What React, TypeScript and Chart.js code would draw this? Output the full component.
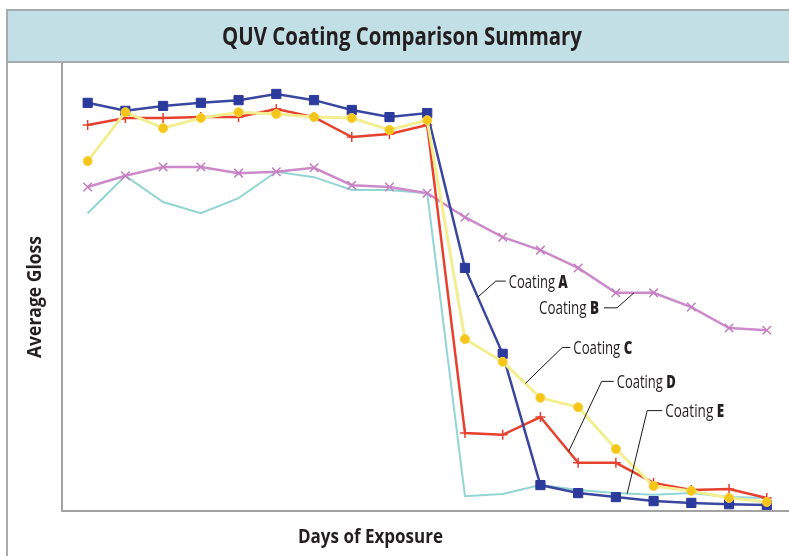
import React, { useEffect, useRef } from "react";
import { Chart, registerables } from "chart.js";

Chart.register(...registerables);

// ---- Data ----
const exposureSteps = [0, 1, 2, 3, 4, 5, 6, 7, 8, 9, 10, 11, 12, 13, 14, 15, 16, 17, 18];
const coatingA = [91.5, 89.7, 90.8, 91.5, 92.1, 93.5, 92.1, 89.9, 88.3, 89.2, 54.4, 35.1, 5.6, 3.8, 2.9, 2.0, 1.6, 1.3, 1.1];
const coatingB = [72.6, 75.1, 77.1, 77.1, 75.7, 76.0, 76.9, 73.0, 72.6, 71.2, 65.8, 61.3, 58.4, 54.4, 48.8, 48.8, 45.6, 40.9, 40.4];
const coatingC = [78.4, 89.4, 85.8, 88.1, 89.4, 89.0, 88.3, 88.1, 85.4, 87.6, 38.4, 33.3, 25.2, 23.1, 13.7, 5.4, 4.3, 2.7, 1.8];
const coatingD = [86.5, 88.1, 88.1, 88.3, 88.3, 90.1, 88.3, 83.8, 84.5, 86.5, 17.3, 16.9, 20.9, 10.6, 10.6, 6.1, 4.5, 4.7, 2.7];
const coatingE = [66.7, 75.1, 69.2, 66.7, 70.1, 76.0, 74.8, 71.9, 71.9, 71.2, 3.1, 3.6, 5.6, 4.5, 3.8, 3.4, 3.8, 2.9, 2.7];

const seriesNames = ["A", "B", "C", "D", "E"];
const chartTitle = "QUV Coating Comparison Summary";
const xTitle = "Days of Exposure";
const yTitle = "Average Gloss";

// label callouts: series, anchor position along the x index
const calloutSeries = ["A", "B", "C", "D", "E"];
const calloutAt = [10.34, 14.48, 11.6, 12.75, 14.3];

const FONT = '"Open Sans", "Noto Sans", sans-serif';
const TEXT = "#231f20";

function fitText(ctx: CanvasRenderingContext2D, text: string, x: number, y: number, w: number, size: number, weight: string, align: "left" | "center" | "right") {
  ctx.save();
  ctx.font = `${weight} ${size}px ${FONT}`;
  const m = ctx.measureText(text).width;
  const s = w / m;
  ctx.translate(x, y);
  ctx.scale(s, 1);
  ctx.textAlign = align;
  ctx.textBaseline = "alphabetic";
  ctx.fillStyle = TEXT;
  ctx.fillText(text, 0, 0);
  ctx.restore();
}

function drawCoating(ctx: CanvasRenderingContext2D, letter: string, x: number, y: number, w: number, align: "left" | "right") {
  ctx.save();
  const size = 18;
  const reg = `500 ${size}px ${FONT}`;
  const bold = `800 ${size}px ${FONT}`;
  ctx.font = reg;
  const w1 = ctx.measureText("Coating ").width;
  ctx.font = bold;
  const w2 = ctx.measureText(letter).width;
  const s = w / (w1 + w2);
  const startX = align === "left" ? x : x - w;
  ctx.translate(startX, y);
  ctx.scale(s, 1);
  ctx.textAlign = "left";
  ctx.textBaseline = "alphabetic";
  ctx.fillStyle = TEXT;
  ctx.font = reg;
  ctx.fillText("Coating ", 0, 0);
  ctx.font = bold;
  ctx.fillText(letter, w1, 0);
  ctx.restore();
}

const seriesValues: Record<string, number[]> = { A: coatingA, B: coatingB, C: coatingC, D: coatingD, E: coatingE };

const framePlugin = {
  id: "frame",
  beforeDraw(chart: any) {
    const ctx: CanvasRenderingContext2D = chart.ctx;
    const W = chart.width;
    const H = chart.height;
    const ca = chart.chartArea;
    ctx.save();
    ctx.fillStyle = "#ffffff";
    ctx.fillRect(0, 0, W, H);
    // title band
    ctx.fillStyle = "#c3dfe6";
    ctx.fillRect(7, 10, W - 7, 52);
    ctx.strokeStyle = "#a8aaad";
    ctx.lineWidth = 2;
    ctx.beginPath();
    ctx.moveTo(6, 10);
    ctx.lineTo(W, 10);
    ctx.moveTo(6, 62);
    ctx.lineTo(W, 62);
    ctx.moveTo(7, 9);
    ctx.lineTo(7, H);
    ctx.stroke();
    // axes
    ctx.strokeStyle = "#a3a3a3";
    ctx.lineWidth = 2;
    ctx.beginPath();
    ctx.moveTo(ca.left, 63);
    ctx.lineTo(ca.left, ca.bottom + 1);
    ctx.lineTo(W, ca.bottom + 1);
    ctx.stroke();
    ctx.restore();

    fitText(ctx, chartTitle, 402, 45, 360, 25, "700", "center");
    fitText(ctx, xTitle, 370.5, 543, 145, 20, "700", "center");
    ctx.save();
    ctx.translate(41, 297);
    ctx.rotate(-Math.PI / 2);
    fitText(ctx, yTitle, 0, 0, 122, 19, "700", "center");
    ctx.restore();
  },
  afterDatasetsDraw(chart: any) {
    const ctx: CanvasRenderingContext2D = chart.ctx;
    const xs = chart.scales.x;
    const ys = chart.scales.y;
    // leader geometry in pixels relative to anchor: [elbowDx, elbowDy, endDx]
    const geo: Record<string, number[]> = {
      A: [18, -16, 28],
      B: [-17, 15, -30],
      C: [37, -36, 45],
      D: [33, -70, 45],
      E: [20, -83, 35],
    };
    calloutSeries.forEach((name, k) => {
      const vals = seriesValues[name];
      const at = calloutAt[k];
      const i0 = Math.floor(at);
      const t = at - i0;
      const v = vals[i0] + (vals[i0 + 1] - vals[i0]) * t;
      const ax = xs.getPixelForValue(at);
      const ay = ys.getPixelForValue(v);
      const g = geo[name];
      const ex = ax + g[0];
      const ey = ay + g[1];
      const endX = ax + g[2];
      ctx.save();
      ctx.strokeStyle = "#1a1a1a";
      ctx.lineWidth = 1;
      ctx.beginPath();
      ctx.moveTo(ax, ay);
      ctx.lineTo(ex, ey);
      ctx.lineTo(endX, ey);
      ctx.stroke();
      ctx.restore();
      if (g[2] > 0) {
        drawCoating(ctx, name, endX + 3, ey + 6.5, 59, "left");
      } else {
        drawCoating(ctx, name, endX - 5, ey + 6.5, 60, "right");
      }
    });
  },
};

const pts = (vals: number[]) => vals.map((v, i) => ({ x: exposureSteps[i], y: v }));

export default function App() {
  const ref = useRef<HTMLCanvasElement | null>(null);
  useEffect(() => {
    if (!ref.current) return;
    const chart = new Chart(ref.current, {
      type: "line",
      data: {
        datasets: [
          {
            label: "Coating " + seriesNames[2],
            data: pts(coatingC),
            borderColor: "#f3ee92",
            borderWidth: 3,
            pointStyle: "circle",
            pointRadius: 4.5,
            pointBackgroundColor: "#f5c518",
            pointBorderColor: "#f7d03e",
            pointBorderWidth: 1,
          },
          {
            label: "Coating " + seriesNames[0],
            data: pts(coatingA),
            borderColor: "#3a47a0",
            borderWidth: 2.5,
            pointStyle: "rect",
            pointRadius: 6.5,
            pointBackgroundColor: "#2b3a9c",
            pointBorderColor: "#2b3a9c",
            pointBorderWidth: 1,
          },
          {
            label: "Coating " + seriesNames[3],
            data: pts(coatingD),
            borderColor: "#e6412e",
            borderWidth: 2.5,
            pointStyle: "cross",
            pointRadius: 5,
            pointBorderColor: "#e6412e",
            pointBorderWidth: 1.5,
          },
          {
            label: "Coating " + seriesNames[1],
            data: pts(coatingB),
            borderColor: "#cc8acb",
            borderWidth: 2.5,
            pointStyle: "crossRot",
            pointRadius: 6,
            pointBorderColor: "#c47ec0",
            pointBorderWidth: 1.5,
          },
          {
            label: "Coating " + seriesNames[4],
            data: pts(coatingE),
            borderColor: "#93d5d3",
            borderWidth: 2,
            pointRadius: 0,
          },
        ],
      },
      options: {
        animation: false,
        responsive: false,
        devicePixelRatio: 1,
        layout: { padding: { left: 62, top: 65, right: 0, bottom: 46 } },
        elements: { line: { tension: 0 } },
        plugins: { legend: { display: false }, title: { display: false }, tooltip: { enabled: false } },
        scales: {
          x: { type: "linear", min: -0.68, max: 18.39, display: false },
          y: { type: "linear", min: 0, max: 100, display: false },
        },
      },
      plugins: [framePlugin],
    });
    return () => chart.destroy();
  }, []);
  return (
    <div style={{ position: "fixed", left: 0, top: 0, width: 789, height: 556 }}>
      <canvas ref={ref} width={789} height={556} style={{ width: 789, height: 556, display: "block" }} />
    </div>
  );
}
